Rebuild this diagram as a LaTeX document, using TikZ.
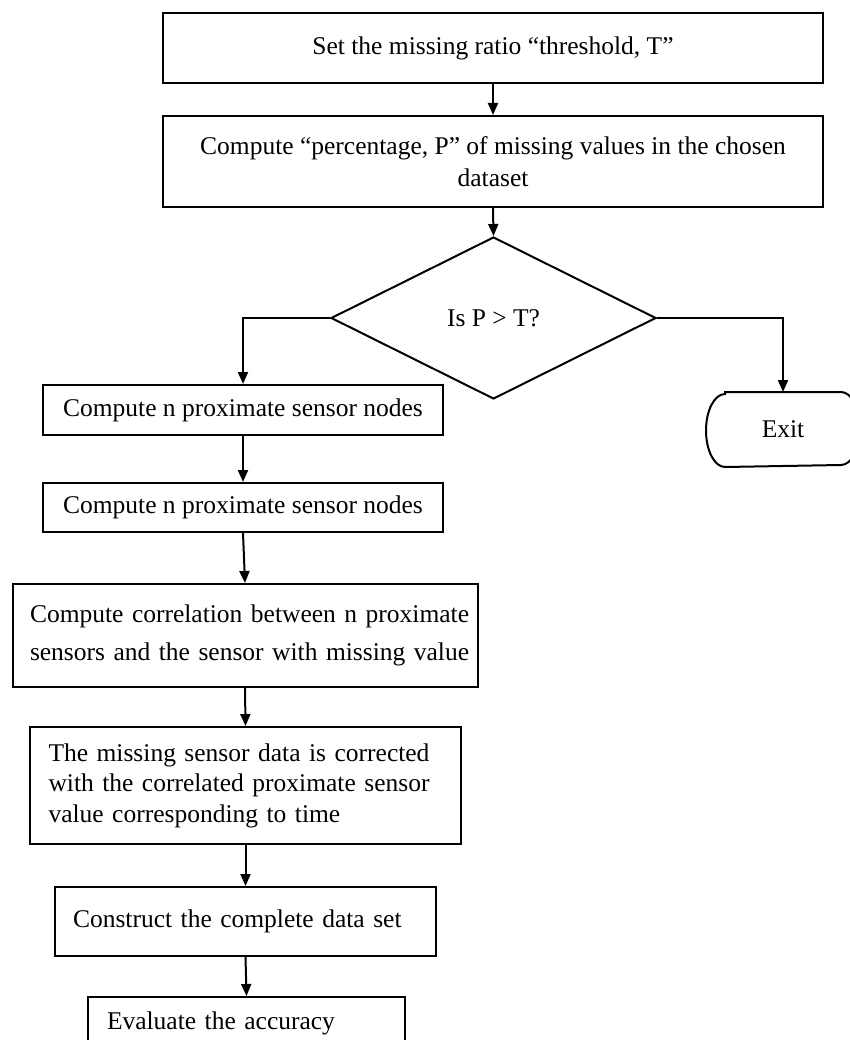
\documentclass[tikz,border=0pt]{standalone}
\usepackage{fontspec}
\setmainfont{Liberation Serif}
\usetikzlibrary{shapes.geometric,arrows.meta}
\begin{document}
\begin{tikzpicture}[x=1pt,y=-1pt,
  font=\fontsize{25.5}{32}\selectfont,
  line width=2pt,
  box/.style={draw, rectangle, inner sep=0pt, align=center},
  lbox/.style={draw, rectangle, inner ysep=0pt, align=left},
  arr/.style={-{Triangle[length=12pt,width=10pt]}}]
\useasboundingbox (0,0) rectangle (850,1040);
\clip (0,0) rectangle (850,1040);

\node[box, minimum width=660pt, minimum height=70pt] (b1) at (493,48)
  {\raisebox{-5pt}{Set the missing ratio \textquotedblleft threshold, T\textquotedblright}};
\node[box, minimum width=660pt, minimum height=91pt] (b2) at (493,161.5)
  {Compute \textquotedblleft percentage, P\textquotedblright\ of missing values in the chosen\\ dataset};
\node[draw, diamond, minimum width=325pt, minimum height=162pt, inner sep=0pt] (dec) at (493.5,318)
  {\raisebox{-5pt}{Is P > T?}};
\node[box, minimum width=400pt, minimum height=50pt] (c1) at (243,410)
  {Compute n proximate sensor nodes};
\node[box, minimum width=400pt, minimum height=49pt] (c2) at (243,507.5)
  {Compute n proximate sensor nodes};
\node[lbox, minimum width=465pt, minimum height=103pt, text width=430pt, inner xsep=17.5pt,
  font=\fontsize{25.5}{38}\selectfont] (corr) at (245,635.5)
  {\makebox[430pt][s]{Compute correlation between n proximate}\\
   \makebox[430pt][s]{sensors and the sensor with missing value}};
\node[lbox, minimum width=431pt, minimum height=117pt, text width=394pt, inner xsep=18.5pt,
  font=\fontsize{25.5}{30.5}\selectfont] (miss) at (245.5,785.5)
  {\makebox[394pt][s]{The missing sensor data is corrected}\\
   \makebox[394pt][s]{with the correlated proximate sensor}\\
   value corresponding to time};
\node[lbox, minimum width=381pt, minimum height=69pt, text width=345pt, inner xsep=18pt] (cons) at (245.5,921.5)
  {\raisebox{-6pt}{Construct the complete data set}};
\node[lbox, minimum width=317pt, minimum height=52pt, text width=279pt, inner xsep=19pt] (eval) at (246.5,1023)
  {Evaluate the accuracy};
\node[inner sep=0pt, minimum width=152pt, minimum height=73pt] (exit) at (783,429.5)
  {\raisebox{-6pt}{Exit}};
\draw ([xshift=19pt]exit.north west) -- ([xshift=-19pt]exit.north east)
  arc[start angle=90, end angle=-90, x radius=19pt, y radius=36.5pt]
  -- ([xshift=19pt]exit.south west)
  arc[start angle=270, end angle=90, x radius=19pt, y radius=36.5pt] -- cycle;

\draw[arr] (b1.south) -- (b2.north);
\draw[arr] (b2.south) -- (dec.north);
\draw[arr] (dec.west) -| (c1.north);
\draw[arr] (dec.east) -| (exit.north);
\draw[arr] (c1.south) -- (c2.north);
\draw[arr] (c2.south) -- (corr.north);
\draw[arr] (corr.south) -- (miss.north);
\draw[arr] (miss.south) -- (cons.north);
\draw[arr] (cons.south) -- (eval.north);
\end{tikzpicture}
\end{document}
